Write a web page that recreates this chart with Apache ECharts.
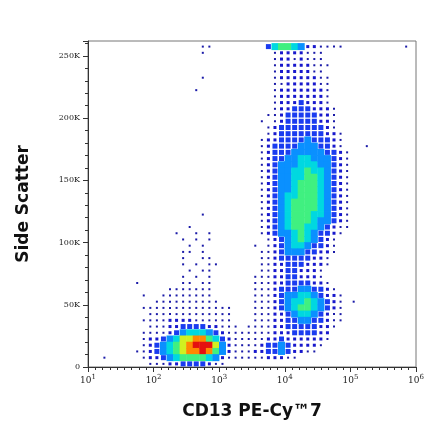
<!DOCTYPE html><html><head><meta charset="utf-8">
<script src="https://cdn.jsdelivr.net/npm/echarts@6/dist/echarts.min.js"></script>
<style>html,body{margin:0;padding:0;background:#fff}#c{width:440px;height:441px}</style></head><body><div id="c"></div>
<script>
// density grid: rows from 255-260K (top) down to 0-5K, cols log10 1.0..6.0 step 0.1
const densityRows = [
"0000000000"+"0000000110"+"0000000356"+"6542211110"+"0000000010",
"0000000000"+"0000000100"+"0000000012"+"2221110000"+"0000000000",
"0000000000"+"0000000000"+"0000000012"+"2121110000"+"0000000000",
"0000000000"+"0000000000"+"0000000012"+"2222111000"+"0000000000",
"0000000000"+"0000000000"+"0000000012"+"2222110000"+"0000000000",
"0000000000"+"0000000100"+"0000000012"+"2222211000"+"0000000000",
"0000000000"+"0000000000"+"0000000011"+"2222211000"+"0000000000",
"0000000000"+"0000001000"+"0000000012"+"2222221000"+"0000000000",
"0000000000"+"0000000000"+"0000000012"+"2222221000"+"0000000000",
"0000000000"+"0000000000"+"0000000012"+"2232221000"+"0000000000",
"0000000000"+"0000000000"+"0000000012"+"2333222100"+"0000000000",
"0000000000"+"0000000000"+"0000000112"+"3333322100"+"0000000000",
"0000000000"+"0000000000"+"0000001012"+"3333322100"+"0000000000",
"0000000000"+"0000000000"+"0000000123"+"3333332100"+"0000000000",
"0000000000"+"0000000000"+"0000000123"+"3333332210"+"0000000000",
"0000000000"+"0000000000"+"0000001223"+"3334333210"+"0000000000",
"0000000000"+"0000000000"+"0000001233"+"3344433210"+"0010000000",
"0000000000"+"0000000000"+"0000001233"+"3444443321"+"0000000000",
"0000000000"+"0000000000"+"0000001233"+"4455444321"+"0000000000",
"0000000000"+"0000000000"+"0000001234"+"4455544321"+"0000000000",
"0000000000"+"0000000000"+"0000001234"+"4556554321"+"0000000000",
"0000000000"+"0000000000"+"0000001234"+"4556654321"+"0000000000",
"0000000000"+"0000000000"+"0000001234"+"4566654321"+"0000000000",
"0000000000"+"0000000000"+"0000001234"+"4566654321"+"0000000000",
"0000000000"+"0000000000"+"0000001234"+"5566654321"+"0000000000",
"0000000000"+"0000000000"+"0000001234"+"5666654321"+"0000000000",
"0000000000"+"0000000000"+"0000001234"+"5666654321"+"0000000000",
"0000000000"+"0000000100"+"0000001234"+"5666554321"+"0000000000",
"0000000000"+"0000000000"+"0000001234"+"5666544321"+"0000000000",
"0000000000"+"0000010000"+"0000001234"+"5665543211"+"0000000000",
"0000000000"+"0001001010"+"0000001234"+"4565433210"+"0000000000",
"0000000000"+"0000101010"+"0000000123"+"4565432100"+"0000000000",
"0000000000"+"0000010100"+"0000010123"+"4554332100"+"0000000000",
"0000000000"+"0000110100"+"0000001123"+"4443322100"+"0000000000",
"0000000000"+"0000100110"+"0000001123"+"3333221000"+"0000000000",
"0000000000"+"0000101011"+"0000001122"+"3332221000"+"0000000000",
"0000000000"+"0000010110"+"0000001122"+"3322210000"+"0000000000",
"0000000000"+"0000101010"+"0000011122"+"3322210000"+"0000000000",
"0000000100"+"0000110110"+"0000011122"+"3333221000"+"0000000000",
"0000000000"+"0011111110"+"0000011123"+"3344332100"+"0000000000",
"0000000010"+"0111111110"+"0000011123"+"4455432210"+"0000000000",
"0000000000"+"1111111111"+"0000011123"+"4556543210"+"1000000000",
"0000000011"+"1111111111"+"1100011123"+"4566543210"+"0000000000",
"0000000001"+"1111111111"+"1100011122"+"3455432110"+"0000000000",
"0000000011"+"1122221111"+"1100011122"+"3344332110"+"0000000000",
"0000000001"+"1122333322"+"1110111122"+"3333322100"+"0000000000",
"0000000011"+"1123455543"+"2111111122"+"2333322000"+"0000000000",
"0000000012"+"2345778865"+"3211111223"+"2222221000"+"0000000000",
"0000000012"+"3456789997"+"4211112334"+"3222210000"+"0000000000",
"0000000112"+"3456788986"+"4211122334"+"3221100000"+"0000000000",
"0010000012"+"2345666654"+"2111111222"+"1100000000"+"0000000000",
"0000000001"+"1122333321"+"1000000000"+"0000000000"+"0000000000"
];
const xStart = 1.0, xStep = 0.1, yStep = 5000;
const yTickLabels = {0:'0',50000:'50K',100000:'100K',150000:'150K',200000:'200K',250000:'250K'};
const levelColors = ['#1a1aa8','#1818cc','#1a3cf0','#0a90ff','#00d8e0','#40f080','#d0f020','#ff8800','#e41010'];
const levelSizes = [2,3,5,7,7,7,7,7,7];

const data = [];
const nRows = densityRows.length;
densityRows.forEach((row, r) => {
  const yc = (nRows - 1 - r) * yStep + yStep / 2;
  for (let i = 0; i < row.length; i++) {
    const v = +row[i];
    if (v > 0) data.push([xStart + xStep * i + xStep / 2, yc, v]);
  }
});

const chart = echarts.init(document.getElementById('c'));
chart.setOption({
  animation: false,
  grid: {left: 88, right: 24, top: 41, bottom: 74, show: true, borderColor: '#777', borderWidth: 1},
  xAxis: {type: 'value', min: 1, max: 6, interval: 1,
    axisLine: {lineStyle: {color: '#333'}}, axisTick: {length: 5, lineStyle: {color: '#333'}},
    minorTick: {show: true, splitNumber: 9, length: 3}, splitLine: {show: false},
    axisLabel: {color: '#222', fontFamily: 'DejaVu Serif', fontSize: 9, margin: 7,
      formatter: v => '10{s|' + v + '}', rich: {s: {fontSize: 7, verticalAlign: 'top', padding: [0,0,6,0], fontFamily: 'DejaVu Serif'}}},
    name: 'CD13 PE-Cy™7', nameLocation: 'middle', nameGap: 36,
    nameTextStyle: {fontFamily: 'DejaVu Sans', fontWeight: 'bold', fontSize: 17, color: '#111'}},
  yAxis: {type: 'value', min: 0, max: 262000, interval: 50000,
    axisLine: {show: true, lineStyle: {color: '#333'}}, axisTick: {length: 5, lineStyle: {color: '#333'}},
    minorTick: {show: true, splitNumber: 5, length: 3}, splitLine: {show: false},
    axisLabel: {color: '#222', fontFamily: 'DejaVu Serif', fontSize: 8, margin: 8, formatter: v => yTickLabels[v] ?? ''},
    name: 'Side Scatter', nameLocation: 'middle', nameGap: 56,
    nameTextStyle: {fontFamily: 'DejaVu Sans', fontWeight: 'bold', fontSize: 17, color: '#111'}},
  visualMap: {show: false, type: 'piecewise', dimension: 2,
    pieces: levelColors.map((c, k) => ({value: k + 1, color: c, symbolSize: levelSizes[k]}))},
  series: [{type: 'scatter', symbol: 'rect', data: data, itemStyle: {opacity: 1}}]
});
</script></body></html>
